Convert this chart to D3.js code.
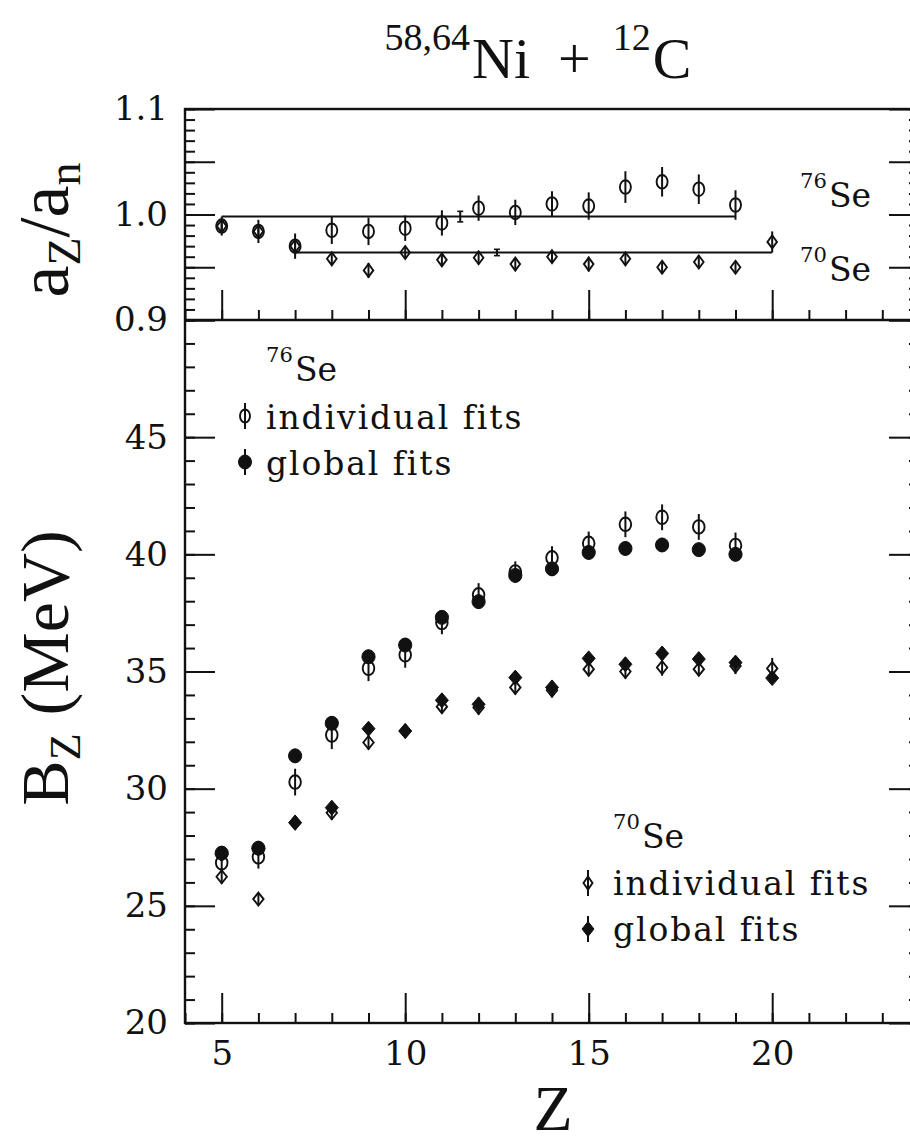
<!DOCTYPE html>
<html>
<head>
<meta charset="utf-8">
<script src="https://cdn.jsdelivr.net/npm/d3@7"></script>
<style>
  html, body { margin: 0; padding: 0; background: #fff; }
  svg { display: block; }
</style>
</head>
<body>
<svg id="chart" width="910" height="1139"></svg>
<script>
// ---- data -------------------------------------------------------------
// charge Z of the fragments
const z76 = [5, 6, 7, 8, 9, 10, 11, 12, 13, 14, 15, 16, 17, 18, 19];
const z70 = [5, 6, 7, 8, 9, 10, 11, 12, 13, 14, 15, 16, 17, 18, 19, 20];

// level-density ratio a_Z / a_n
const ratio76    = [0.989, 0.984, 0.970, 0.985, 0.984, 0.987, 0.992, 1.006, 1.002, 1.010, 1.008, 1.026, 1.031, 1.024, 1.009];
const ratio76Err = [0.009, 0.011, 0.012, 0.013, 0.013, 0.012, 0.012, 0.012, 0.012, 0.012, 0.013, 0.015, 0.014, 0.014, 0.014];
const ratio70    = [0.989, 0.984, 0.970, 0.958, 0.947, 0.964, 0.957, 0.959, 0.953, 0.960, 0.953, 0.958, 0.950, 0.955, 0.950, 0.974];
const ratio70Err = [0.006, 0.006, 0.006, 0.006, 0.007, 0.006, 0.006, 0.006, 0.006, 0.006, 0.007, 0.006, 0.006, 0.006, 0.006, 0.010];

// mean ratio lines: [value, error, Z of error marker, Z start, Z end]
const mean76 = [0.998, 0.005, 11.5, 5, 19];
const mean70 = [0.964, 0.003, 12.5, 7, 20];

// barrier B_Z (MeV)
const b76Ind     = [26.84, 27.09, 30.28, 32.29, 35.14, 35.71, 37.09, 38.27, 39.25, 39.85, 40.47, 41.28, 41.58, 41.17, 40.38];
const b76IndErr  = [0.40, 0.50, 0.57, 0.60, 0.55, 0.55, 0.50, 0.50, 0.45, 0.50, 0.50, 0.55, 0.55, 0.55, 0.55];
const b76Glob    = [27.25, 27.46, 31.40, 32.79, 35.63, 36.13, 37.31, 37.98, 39.10, 39.38, 40.08, 40.25, 40.40, 40.20, 40.00];
const b76GlobErr = [0.30, 0.30, 0.30, 0.30, 0.30, 0.30, 0.30, 0.30, 0.30, 0.30, 0.30, 0.30, 0.30, 0.30, 0.30];
const b70Ind     = [26.24, 25.29, 28.55, 28.97, 31.97, 32.46, 33.50, 33.46, 34.32, 34.20, 35.10, 35.00, 35.17, 35.10, 35.24, 35.13];
const b70IndErr  = [0.30, 0.25, 0.30, 0.30, 0.30, 0.30, 0.30, 0.30, 0.30, 0.30, 0.30, 0.30, 0.35, 0.30, 0.35, 0.45];
const b70Glob    = [27.20, 27.45, 28.55, 29.19, 32.56, 32.46, 33.77, 33.60, 34.74, 34.32, 35.56, 35.31, 35.77, 35.53, 35.38, 34.72];
const b70GlobErr = [0.25, 0.25, 0.25, 0.25, 0.25, 0.25, 0.25, 0.25, 0.25, 0.25, 0.25, 0.25, 0.25, 0.25, 0.25, 0.25];

// axis ticks
const zMajor = [5, 10, 15, 20];
const ratioMajor = [0.9, 0.95, 1.0, 1.05, 1.1];
const ratioLabels = [0.9, 1.0, 1.1];
const bMajor = [20, 25, 30, 35, 40, 45, 50];
const bLabels = [20, 25, 30, 35, 40, 45];

// ---- layout -----------------------------------------------------------
const svg = d3.select("#chart");
const left = 185, right = 919, topY = 109, midY = 320, bottomY = 1023;
const INK = "#111";
const tickFont = "'DejaVu Serif', serif";
const titleFont = "'Liberation Serif', 'Times New Roman', serif";

const x = d3.scaleLinear().domain([4, 24]).range([left, right]);
const yR = d3.scaleLinear().domain([0.9, 1.1]).range([midY, topY]);
const yB = d3.scaleLinear().domain([20, 50]).range([bottomY, midY]);

const zMinor = d3.range(4, 25);
const ratioMinor = d3.range(0, 21).map(i => 0.9 + i * 0.01);
const bMinor = d3.range(20, 51);

function styleAxis(g) {
  g.select(".domain").remove();
  g.selectAll("line").attr("stroke", INK).attr("stroke-width", 2);
  g.selectAll("text").attr("fill", INK).attr("font-family", tickFont).attr("font-size", 34);
}

// left axes (ticks point inward)
function leftAxis(scale, major, labels, minor) {
  svg.append("g").attr("transform", `translate(${left},0)`)
    .call(d3.axisLeft(scale).tickValues(minor).tickSizeInner(-10).tickSizeOuter(0).tickFormat(""))
    .call(styleAxis);
  svg.append("g").attr("transform", `translate(${left},0)`)
    .call(d3.axisLeft(scale).tickValues(major).tickSizeInner(-30).tickSizeOuter(0).tickPadding(17)
      .tickFormat(d => labels.some(l => Math.abs(l - d) < 1e-9) ? d3.format(d < 2 ? ".1f" : "d")(d) : ""))
    .call(styleAxis);
}
function rightAxis(scale, major, minor) {
  svg.append("g").attr("transform", `translate(${right},0)`)
    .call(d3.axisRight(scale).tickValues(minor).tickSizeInner(-10).tickSizeOuter(0).tickFormat(""))
    .call(styleAxis);
  svg.append("g").attr("transform", `translate(${right},0)`)
    .call(d3.axisRight(scale).tickValues(major).tickSizeInner(-30).tickSizeOuter(0).tickFormat(""))
    .call(styleAxis);
}
leftAxis(yR, ratioMajor, ratioLabels, ratioMinor);
leftAxis(yB, bMajor, bLabels, bMinor);
rightAxis(yR, ratioMajor, ratioMinor);
rightAxis(yB, bMajor, bMinor);

// bottom axis of each panel (ticks point up)
function zAxis(yPos, withLabels) {
  svg.append("g").attr("transform", `translate(0,${yPos})`)
    .call(d3.axisBottom(x).tickValues(zMinor).tickSizeInner(-10).tickSizeOuter(0).tickFormat(""))
    .call(styleAxis);
  svg.append("g").attr("transform", `translate(0,${yPos})`)
    .call(d3.axisBottom(x).tickValues(zMajor).tickSizeInner(-30).tickSizeOuter(0).tickPadding(18)
      .tickFormat(withLabels ? d3.format("d") : ""))
    .call(styleAxis);
}
zAxis(midY, false);
zAxis(bottomY, true);

// frame
svg.append("rect").attr("x", left).attr("y", topY)
  .attr("width", right - left).attr("height", bottomY - topY)
  .attr("fill", "none").attr("stroke", INK).attr("stroke-width", 2.4);
svg.append("line").attr("x1", left).attr("x2", right).attr("y1", midY).attr("y2", midY)
  .attr("stroke", INK).attr("stroke-width", 2.4);

// ---- marks --------------------------------------------------------------
const ellipsePath = (rx, ry) => `M${-rx},0 A${rx},${ry} 0 1,0 ${rx},0 A${rx},${ry} 0 1,0 ${-rx},0 Z`;
const diamondPath = (hw, hh) => `M0,${-hh} L${hw},0 L0,${hh} L${-hw},0 Z`;

function series(zs, vals, errs, yScale, shape, filled) {
  const g = svg.append("g");
  const pts = zs.map((z, i) => ({ z, v: vals[i], e: errs[i] }));
  g.selectAll("line.err").data(pts).join("line")
    .attr("x1", d => x(d.z)).attr("x2", d => x(d.z))
    .attr("y1", d => yScale(d.v - d.e)).attr("y2", d => yScale(d.v + d.e))
    .attr("stroke", INK).attr("stroke-width", 2);
  g.selectAll("path.sym").data(pts).join("path")
    .attr("transform", d => `translate(${x(d.z)},${yScale(d.v)})`)
    .attr("d", shape)
    .attr("fill", filled ? INK : "none")
    .attr("stroke", INK).attr("stroke-width", filled ? 1 : 1.9);
}

// upper panel: a_Z/a_n with mean lines
function meanLine(m) {
  const [v, e, zErr, z0, z1] = m;
  svg.append("line").attr("x1", x(z0)).attr("x2", x(z1)).attr("y1", yR(v)).attr("y2", yR(v))
    .attr("stroke", INK).attr("stroke-width", 2);
  svg.append("line").attr("x1", x(zErr)).attr("x2", x(zErr)).attr("y1", yR(v - e)).attr("y2", yR(v + e))
    .attr("stroke", INK).attr("stroke-width", 2);
  [v - e, v + e].forEach(c => svg.append("line")
    .attr("x1", x(zErr) - 3).attr("x2", x(zErr) + 3).attr("y1", yR(c)).attr("y2", yR(c))
    .attr("stroke", INK).attr("stroke-width", 1.6));
}
meanLine(mean76);
meanLine(mean70);
series(z70, ratio70, ratio70Err, yR, diamondPath(4.8, 6.5), false);
series(z76, ratio76, ratio76Err, yR, ellipsePath(5.5, 6.8), false);

// lower panel: B_Z
series(z76, b76Ind, b76IndErr, yB, ellipsePath(5.8, 6.8), false);
series(z70, b70Ind, b70IndErr, yB, diamondPath(5.2, 6.5), false);
series(z76, b76Glob, b76GlobErr, yB, ellipsePath(6.6, 7), true);
series(z70, b70Glob, b70GlobErr, yB, diamondPath(6.5, 7.5), true);

// ---- text ---------------------------------------------------------------
function isotope(xPos, yPos, mass, size) {
  const t = svg.append("text").attr("x", xPos).attr("y", yPos)
    .attr("font-family", tickFont).attr("fill", INK);
  t.append("tspan").attr("font-size", size * 0.64).attr("dy", -size * 0.58).text(mass);
  t.append("tspan").attr("font-size", size).attr("dy", size * 0.58).attr("dx", 2).text("Se");
}
isotope(800, 207, "76", 33);
isotope(800, 281, "70", 33);

function legendEntry(mx, my, tx, ty, shape, filled, label) {
  svg.append("line").attr("x1", mx).attr("x2", mx).attr("y1", my - 13).attr("y2", my + 13)
    .attr("stroke", INK).attr("stroke-width", 2);
  svg.append("path").attr("transform", `translate(${mx},${my})`).attr("d", shape)
    .attr("fill", filled ? INK : "none").attr("stroke", INK).attr("stroke-width", filled ? 1 : 1.9);
  svg.append("text").attr("x", tx).attr("y", ty).attr("font-family", tickFont)
    .attr("font-size", 33).attr("letter-spacing", 1.9).attr("fill", INK).text(label);
}
isotope(266, 381, "76", 33);
legendEntry(245, 416, 266, 429, ellipsePath(5, 6.5), false, "individual fits");
legendEntry(245, 462, 266, 475, ellipsePath(6.5, 7), true, "global fits");
isotope(613, 848, "70", 33);
legendEntry(588, 883, 613, 895, diamondPath(4.5, 6.5), false, "individual fits");
legendEntry(588, 929, 613, 941, diamondPath(6, 7.5), true, "global fits");

// title
const title = svg.append("text").attr("x", 538).attr("y", 78).attr("text-anchor", "middle")
  .attr("font-family", titleFont).attr("fill", INK);
title.append("tspan").attr("font-size", 38).attr("dy", -28).text("58,64");
title.append("tspan").attr("font-size", 58).attr("dy", 28).attr("dx", 2).text("Ni");
title.append("tspan").attr("font-size", 58).attr("dx", 28).text("+");
title.append("tspan").attr("font-size", 38).attr("dx", 22).attr("dy", -28).text("12");
title.append("tspan").attr("font-size", 58).attr("dy", 28).attr("dx", 2).text("C");

// axis titles
const yTop = svg.append("text").attr("transform", "translate(68,230) rotate(-90)")
  .attr("text-anchor", "middle").attr("font-family", titleFont).attr("fill", INK).attr("font-size", 72);
yTop.append("tspan").text("a");
yTop.append("tspan").attr("font-size", 46).attr("dy", 12).text("Z");
yTop.append("tspan").attr("dy", -12).text("/a");
yTop.append("tspan").attr("font-size", 46).attr("dy", 12).text("n");

const yBot = svg.append("text").attr("transform", "translate(68,668) rotate(-90)")
  .attr("text-anchor", "middle").attr("font-family", titleFont).attr("fill", INK).attr("font-size", 68);
yBot.append("tspan").text("B");
yBot.append("tspan").attr("font-size", 44).attr("dy", 12).text("Z");
yBot.append("tspan").attr("dy", -12).attr("dx", 18).text("(MeV)");

svg.append("text").attr("x", 553).attr("y", 1130).attr("text-anchor", "middle")
  .attr("font-family", titleFont).attr("font-size", 64).attr("fill", INK).text("Z");
</script>
</body>
</html>
